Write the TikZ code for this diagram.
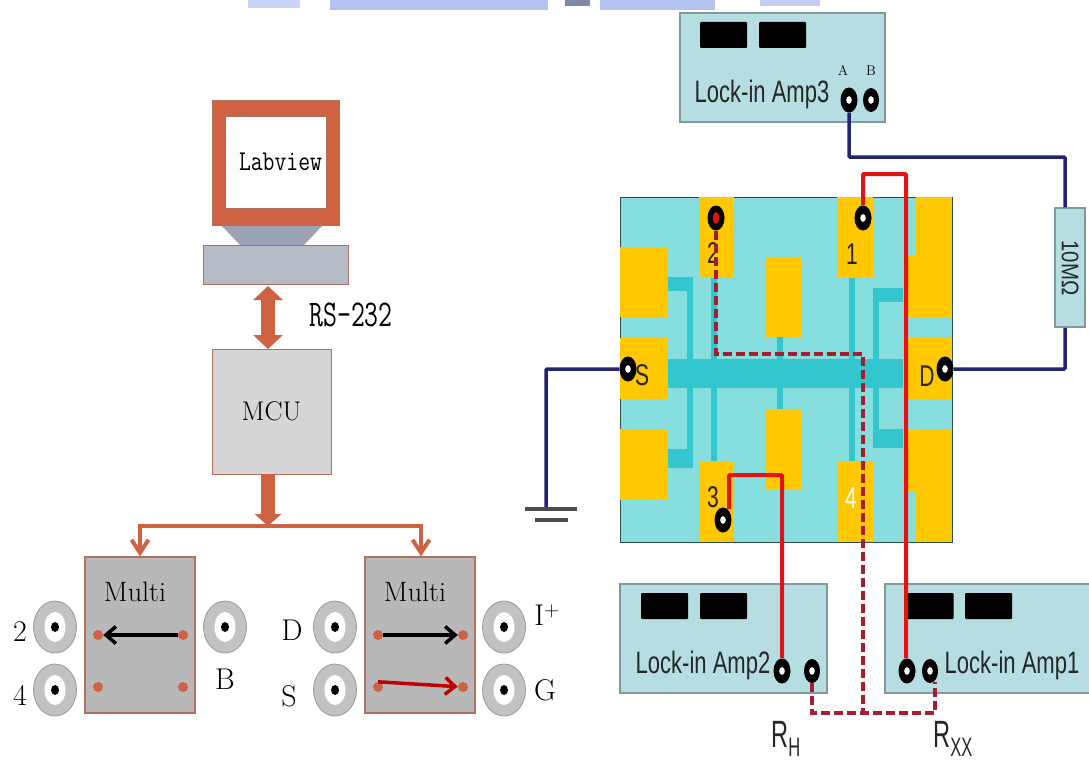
\documentclass[tikz,border=0pt]{standalone}
\usepackage{amsmath, amssymb}
\usepackage{fontspec}
\usepackage{tikz}
\usetikzlibrary{arrows.meta, shapes.geometric}
\setsansfont{Liberation Sans}
\definecolor{rust}{HTML}{CF6243}
\definecolor{rustline}{HTML}{B0705C}
\definecolor{pad}{HTML}{FFC800}
\definecolor{chip}{HTML}{86DEDE}
\definecolor{trace}{HTML}{33C6CE}
\definecolor{amp}{HTML}{B5DDE2}
\definecolor{ampline}{HTML}{7F9A9E}
\definecolor{navywire}{HTML}{24246E}
\definecolor{redwire}{HTML}{E01414}
\definecolor{darkwire}{HTML}{A81C30}
\definecolor{scrap}{HTML}{B4C2F2}
\definecolor{slate}{HTML}{9AA2B4}
\definecolor{basecol}{HTML}{B5BCC8}
\begin{document}
\begin{tikzpicture}[x=1pt, y=-1pt]
  % Define styles
  \tikzstyle{ampbox} = [rectangle, draw=ampline, line width=2pt, fill=amp, minimum height=109pt, inner sep=0pt]
  \tikzstyle{display} = [rectangle, fill=black, rounded corners=1pt, minimum width=47pt, minimum height=26pt, inner sep=0pt]
  \tikzstyle{jack} = [ellipse, fill=black, minimum width=17pt, minimum height=25pt, inner sep=0pt,
    path picture={\fill[white] (path picture bounding box.center) ellipse (2.8 and 3.8);}]
  \tikzstyle{jackred} = [ellipse, fill=black, minimum width=17pt, minimum height=25pt, inner sep=0pt,
    path picture={\fill[redwire] (path picture bounding box.center) ellipse (3 and 6);}]
  \tikzstyle{jacksmall} = [jack, minimum width=16pt, minimum height=24pt]
  \tikzstyle{padbox} = [rectangle, fill=pad, inner sep=0pt]
  \tikzstyle{tracebox} = [rectangle, fill=trace, inner sep=0pt]
  \tikzstyle{ampname} = [font=\sffamily\fontsize{31}{31}\selectfont, xscale=0.71, transform shape, inner sep=0pt, text=black!85]
  \tikzstyle{padname} = [font=\sffamily\fontsize{30}{30}\selectfont, xscale=0.7, transform shape, inner sep=0pt, text=black!85]
  \tikzstyle{multibox} = [rectangle, draw=rustline, line width=1.2pt, fill=black!28, minimum width=110pt, minimum height=156pt, inner sep=0pt]
  \tikzstyle{multiname} = [font=\fontsize{28}{28}\selectfont, inner sep=0pt]
  \tikzstyle{portname} = [font=\fontsize{30}{30}\selectfont, inner sep=0pt]
  \tikzstyle{termdot} = [circle, fill=rust, minimum size=10pt, inner sep=0pt]
  \tikzstyle{bnc} = [ellipse, draw=black!40, line width=0.8pt, fill=black!24, minimum width=43pt, minimum height=52pt, inner sep=0pt,
    path picture={
      \fill[white] (path picture bounding box.center) ellipse (10.5 and 15);
      \fill[black] (path picture bounding box.center) ellipse (4 and 5);
    }]
  \tikzstyle{fatlink} = [draw=rust, line width=14pt]
  \tikzstyle{bus} = [draw=rust, line width=4pt]
  \tikzstyle{navyline} = [draw=navywire, line width=3.5pt, rounded corners=1pt]
  \tikzstyle{redline} = [draw=redwire, line width=4pt, rounded corners=1pt]
  \tikzstyle{dashline} = [draw=darkwire, line width=4pt, dash pattern=on 9pt off 4pt]
  \tikzstyle{switchline} = [line width=3.5pt, -{Straight Barb[width=17pt,length=10pt]}]

  % Page margin
  \useasboundingbox (0,0) rectangle (1089,765);

  % Watermark scraps along the top edge
  \fill[scrap!70] (248,0) rectangle (300,8);
  \fill[scrap] (330,0) rectangle (548,10);
  \fill[black!30!scrap] (565,0) rectangle (590,6);
  \fill[scrap] (600,0) rectangle (715,10);
  \fill[scrap!80] (760,0) rectangle (820,6);

  % Computer
  \node[rectangle, draw=rustline, fill=rust, minimum width=127pt, minimum height=125pt, inner sep=0pt] (monitor) at (275.5,162.5) {};
  \node[rectangle, draw=rustline, fill=white, minimum width=101pt, minimum height=92pt, inner sep=0pt, font=\ttfamily\fontsize{23}{23}\selectfont] (screen) at (276,162) {\hspace*{9pt}\scalebox{1}[1.25]{Labview}};
  \fill[slate] (222,226) -- (322,226) -- (304,245) -- (240,245) -- cycle;
  \node[rectangle, draw=rustline, fill=basecol, minimum width=145pt, minimum height=39pt, inner sep=0pt] (base) at (275.5,264.5) {};
  \node[font=\ttfamily\fontsize{27}{27}\selectfont, yscale=1.4, transform shape, inner sep=0pt] (rsname) at (351,315) {RS-232};

  % MCU
  \node[rectangle, draw=rustline, fill=black!16, minimum width=119pt, minimum height=125pt, inner sep=0pt, font=\fontsize{27}{27}\selectfont] (mcu) at (271.5,411.5) {MCU};

  % Multiplexers
  \node[multibox] (multil) at (140,635) {};
  \node[multibox] (multir) at (420,635) {};
  \node[multiname] (namel) at (135,592) {Multi};
  \node[multiname] (namer) at (415,592) {Multi};

  % Multiplexer terminals
  \node[termdot] (la) at (98,635) {};
  \node[termdot] (lb) at (183,635) {};
  \node[termdot] (lc) at (98,687) {};
  \node[termdot] (ld) at (183,687) {};
  \node[termdot] (ra) at (378,635) {};
  \node[termdot] (rb) at (463,635) {};
  \node[termdot] (rc) at (378,687) {};
  \node[termdot] (rd) at (463,687) {};

  % BNC connectors
  \node[bnc] (bnctwo) at (55,627) {};
  \node[bnc] (bncfour) at (55,690) {};
  \node[bnc] (bncb) at (225,627) {};
  \node[bnc] (bncd) at (335,627) {};
  \node[bnc] (bncs) at (335,690) {};
  \node[bnc] (bnci) at (504,627) {};
  \node[bnc] (bncg) at (504,690) {};

  % BNC labels
  \node[portname] (nametwo) at (20,632) {2};
  \node[portname] (namefour) at (20,695) {4};
  \node[portname] (nameb) at (225,679) {B};
  \node[portname] (named) at (292,630) {D};
  \node[portname] (names) at (289,696) {S};
  \node[portname] (namei) at (547,615) {I$^{+}$};
  \node[portname] (nameg) at (545,690) {G};

  % Lock-in amplifier 3
  \node[ampbox, minimum width=205pt] (ampc) at (782.5,67.5) {};
  \node[display] (dispca) at (723.5,35) {};
  \node[display] (dispcb) at (782.5,35) {};
  \node[ampname] (ampcname) at (762,94) {Lock-in Amp3};
  \node[font=\fontsize{14}{14}\selectfont, inner sep=0pt] (namea) at (843,71) {A};
  \node[font=\fontsize{14}{14}\selectfont, inner sep=0pt] (namebb) at (871,71) {B};
  \node[jack] (jackca) at (849,100) {};
  \node[jacksmall] (jackcb) at (871,100) {};

  % Lock-in amplifier 2
  \node[ampbox, minimum width=207pt] (ampb) at (723.5,638.5) {};
  \node[display] (dispba) at (664.5,606) {};
  \node[display] (dispbb) at (723.5,606) {};
  \node[ampname] (ampbname) at (703,665) {Lock-in Amp2};
  \node[jack] (jackba) at (782,671) {};
  \node[jacksmall] (jackbb) at (812,671) {};

  % Lock-in amplifier 1
  \node[ampbox, minimum width=206pt] (ampa) at (988,638.5) {};
  \node[display] (dispaa) at (930,606) {};
  \node[display] (dispab) at (988.5,606) {};
  \node[ampname] (ampaname) at (1012,665) {Lock-in Amp1};
  \node[jack] (jackaa) at (907,671) {};
  \node[jacksmall] (jackab) at (930,671) {};

  % Hall bar device
  \node[rectangle, draw=black!65!chip, line width=1pt, fill=chip, minimum width=332pt, minimum height=345pt, inner sep=0pt] (device) at (786,369.5) {};

  % Channel and side arms
  \node[tracebox, minimum width=235pt, minimum height=29pt] (channel) at (785.5,373.5) {};
  \node[tracebox, minimum width=6pt, minimum height=184pt] (armtwo) at (714,369) {};
  \node[tracebox, minimum width=6pt, minimum height=184pt] (armone) at (852,369) {};
  \node[tracebox, minimum width=6pt, minimum height=72pt] (armmid) at (780,373) {};
  \node[tracebox, minimum width=6pt, minimum height=191pt] (armla) at (690,372.5) {};
  \node[tracebox, minimum width=25pt, minimum height=14pt] (armlb) at (680.5,284) {};
  \node[tracebox, minimum width=25pt, minimum height=19pt] (armlc) at (680.5,458.5) {};
  \node[tracebox, minimum width=6pt, minimum height=160pt] (armra) at (876,368) {};
  \node[tracebox, minimum width=30pt, minimum height=14pt] (armrb) at (888,295) {};
  \node[tracebox, minimum width=30pt, minimum height=19pt] (armrc) at (888,438.5) {};

  % Gold pads
  \node[padbox, minimum width=35pt, minimum height=81pt] (padtwo) at (716.5,237) {};
  \node[padbox, minimum width=36pt, minimum height=81pt] (padone) at (855,237) {};
  \node[padbox, minimum width=35pt, minimum height=81pt] (padthree) at (716.5,501.5) {};
  \node[padbox, minimum width=36pt, minimum height=81pt] (padfour) at (855,501.5) {};
  \node[padbox, minimum width=36pt, minimum height=80pt] (padmida) at (783,297) {};
  \node[padbox, minimum width=36pt, minimum height=81pt] (padmidb) at (783,449.5) {};
  \node[padbox, minimum width=48pt, minimum height=70pt] (padla) at (644,282) {};
  \node[padbox, minimum width=48pt, minimum height=61pt] (pads) at (644,368.5) {};
  \node[padbox, minimum width=48pt, minimum height=71pt] (padlb) at (644,464.5) {};
  \node[padbox, minimum width=36pt, minimum height=121pt] (padra) at (934,257) {};
  \node[padbox, minimum width=46pt, minimum height=61pt] (padrc) at (929,286.5) {};
  \node[padbox, minimum width=46pt, minimum height=61pt] (padd) at (929,368.5) {};
  \node[padbox, minimum width=46pt, minimum height=61pt] (padrb) at (929,460) {};
  \node[padbox, minimum width=36pt, minimum height=113pt] (padrd) at (934,485.5) {};

  % Pad labels
  \node[padname] (nametwopad) at (713,253) {2};
  \node[padname] (nameonepad) at (852,254) {1};
  \node[padname] (namethreepad) at (713,497) {3};
  \node[padname, text=white] (namefourpad) at (851,498) {4};
  \node[padname] (nameS) at (642,375) {S};
  \node[padname] (nameD) at (927,376) {D};

  % Device jacks
  \node[jackred] (jacktwo) at (716,218) {};
  \node[jack] (jackone) at (863,218) {};
  \node[jack] (jackthree) at (723,520) {};
  \node[jack] (jacksource) at (628,369) {};
  \node[jack] (jackdrain) at (945,369) {};

  % Wire corners
  \coordinate (navya) at (849,157);
  \coordinate (navyb) at (1065,157);
  \coordinate (navyc) at (1065,369);
  \coordinate (navyd) at (546,369);
  \coordinate (oneup) at (863,174);
  \coordinate (oneover) at (906,174);
  \coordinate (threelow) at (729,509);
  \coordinate (threeup) at (729,475);
  \coordinate (threeover) at (782,475);
  \coordinate (twodown) at (716,354);
  \coordinate (twoover) at (863,354);
  \coordinate (rhdown) at (812,713);
  \coordinate (rxdown) at (935,713);
  \coordinate (tee) at (863,713);
  \coordinate (pinrx) at (935,682);
  \coordinate (linktop) at (268,286);
  \coordinate (linkbot) at (268,349);
  \coordinate (drop) at (268,474);
  \coordinate (dropend) at (268,526);
  \coordinate (busl) at (140,526);
  \coordinate (busr) at (421,526);
  \coordinate (gnda) at (546,509);
  \coordinate (gndb) at (525,509);
  \coordinate (gndc) at (577,509);
  \coordinate (gndd) at (535,520);
  \coordinate (gnde) at (568,520);

  % Resistor
  \node[rectangle, draw=ampline, line width=1.5pt, fill=amp, minimum width=30pt, minimum height=119pt, inner sep=0pt] (resistor) at (1070,267.5) {};
  \node[font=\sffamily\fontsize{24}{24}\selectfont, rotate=-90, xscale=0.85, transform shape, inner sep=0pt, text=black!85] (resname) at (1070,268) {10MΩ};

  % Blue wires
  \draw[navyline] (jackca) -- (navya) -- (navyb) -- (resistor.north -| navyb);
  \draw[navyline] (resistor.south -| navyb) -- (navyc) -- (jackdrain);
  \draw[navyline] (jacksource) -- (navyd) -- (gnda);
  \draw[line width=3.5pt, draw=black!70] (gndb) -- (gndc);
  \draw[line width=3.5pt, draw=black!70] (gndd) -- (gnde);

  % Red wires
  \draw[redline] (jackone.north) -- (oneup) -- (oneover) -- (oneover |- jackaa.north);
  \draw[redline] (threelow) -- (threeup) -- (threeover) -- (jackba);

  % Dashed wires
  \draw[dashline] (jacktwo.south) -- (twodown) -- (twoover) -- (tee);
  \draw[dashline] (jackbb) -- (rhdown) -- (rxdown) -- (pinrx);

  % Left side links
  \draw[fatlink, {Triangle[width=29pt,length=14pt]}-{Triangle[width=29pt,length=14pt]}] (linktop) -- (linkbot);
  \draw[fatlink, -{Triangle[width=26pt,length=12pt]}] (drop) -- (dropend);
  \draw[bus, -{Straight Barb[width=17pt,length=13pt]}] (dropend) -- (busl) -- (multil.north -| busl);
  \draw[bus, -{Straight Barb[width=17pt,length=13pt]}] (dropend) -- (busr) -- (multir.north -| busr);

  % Switch arrows
  \draw[switchline] (lb) -- (la);
  \draw[switchline] (ra) -- (rb);
  \draw[switchline, draw=red!75!black] (rc.north) -- (rd);

  % Result labels
  \node[font=\sffamily\fontsize{38}{38}\selectfont, xscale=0.62, transform shape, inner sep=0pt, text=black!85] (namerh) at (786,739) {R$_{\text{H}}$};
  \node[font=\sffamily\fontsize{38}{38}\selectfont, xscale=0.62, transform shape, inner sep=0pt, text=black!85] (namerx) at (953,739) {R$_{\text{XX}}$};
\end{tikzpicture}
\end{document}
